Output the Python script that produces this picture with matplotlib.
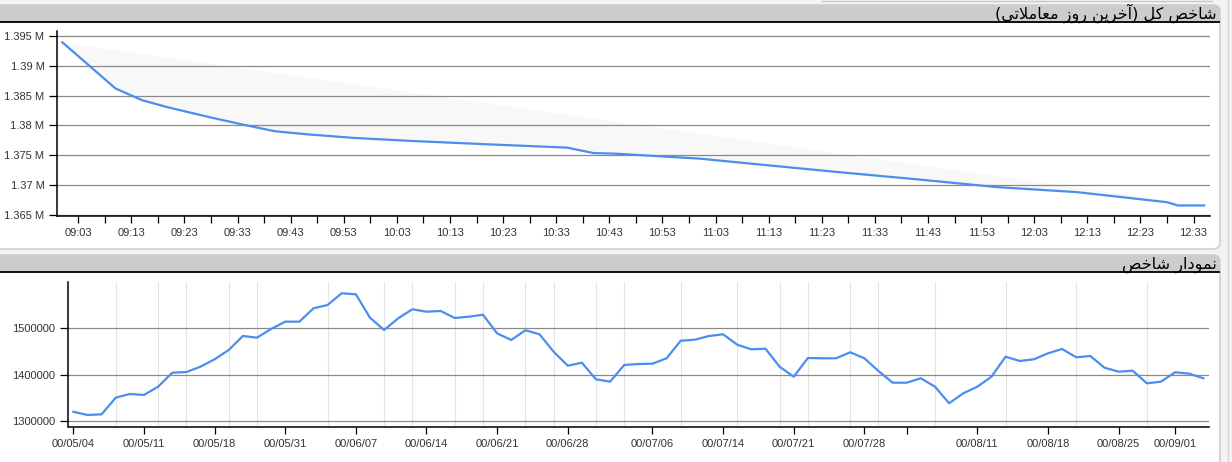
import matplotlib
matplotlib.use("Agg")
import matplotlib.pyplot as plt
import numpy as np
from matplotlib.patches import FancyBboxPatch, Rectangle
from matplotlib.ticker import FixedLocator, FuncFormatter, MultipleLocator

# ---------------- data ----------------
top_title = "شاخص کل (آخرین روز معاملاتی)"
bottom_title = "نمودار شاخص"

intraday_times = ["09:00", "09:10", "09:15", "09:20", "09:28", "09:34", "09:40", "09:46",
                  "09:55", "10:06", "10:20", "10:35", "10:40", "10:44", "11:00", "11:13",
                  "11:26", "11:41", "11:56", "12:11", "12:28", "12:30", "12:35"]
intraday_values = [1393940, 1386200, 1384230, 1383000, 1381310, 1380130, 1379010, 1378500,
                   1377880, 1377370, 1376820, 1376260, 1375350, 1375250, 1374410, 1373280,
                   1372160, 1370930, 1369630, 1368790, 1367100, 1366550, 1366550]

daily_values = [1320600, 1313500, 1315000, 1350800, 1358700, 1356600, 1374400, 1404500,
                1406000, 1417400, 1433300, 1453300, 1483400, 1479800, 1498500, 1514200,
                1514200, 1543000, 1550100, 1575300, 1573100, 1522800, 1496300, 1521500,
                1540900, 1535700, 1537200, 1522200, 1524900, 1529200, 1489200, 1474800,
                1495700, 1487100, 1449700, 1419600, 1426000, 1390300, 1385200, 1421100,
                1423200, 1423900, 1435500, 1473300, 1475500, 1483400, 1487100, 1464700,
                1454800, 1456100, 1417400, 1395900, 1436100, 1435500, 1435500, 1448400,
                1435500, 1408200, 1383000, 1383000, 1392500, 1374400, 1338700, 1360200,
                1374400, 1395900, 1438900, 1429700, 1433300, 1446200, 1455500, 1437600,
                1440400, 1415300, 1406700, 1408800, 1381700, 1385200, 1405400, 1402400,
                1392500]
daily_tick_index = [0, 5, 10, 15, 20, 25, 30, 35, 41, 46, 51, 56, 59, 64, 69, 74, 78]
daily_tick_labels = ["00/05/04", "00/05/11", "00/05/18", "00/05/31", "00/06/07", "00/06/14",
                     "00/06/21", "00/06/28", "00/07/06", "00/07/14", "00/07/21", "00/07/28",
                     "", "00/08/11", "00/08/18", "00/08/25", "00/09/01"]
daily_grid_index = [0, 3, 6, 8, 11, 13, 15, 18, 20, 22, 24, 27, 29, 32, 34, 37, 39, 43, 46,
                    47, 50, 52, 55, 57, 59, 61, 64, 66, 69, 71, 74, 76, 78]

# ---------------- helpers ----------------
FORMS = {
    'ا': ('\uFE8D', '\uFE8E', None, None),
    'آ': ('\uFE81', '\uFE82', None, None),
    'ت': ('\uFE95', '\uFE96', '\uFE97', '\uFE98'),
    'خ': ('\uFEA5', '\uFEA6', '\uFEA7', '\uFEA8'),
    'د': ('\uFEA9', '\uFEAA', None, None),
    'ر': ('\uFEAD', '\uFEAE', None, None),
    'ز': ('\uFEAF', '\uFEB0', None, None),
    'ش': ('\uFEB5', '\uFEB6', '\uFEB7', '\uFEB8'),
    'ص': ('\uFEB9', '\uFEBA', '\uFEBB', '\uFEBC'),
    'ع': ('\uFEC9', '\uFECA', '\uFECB', '\uFECC'),
    'ل': ('\uFEDD', '\uFEDE', '\uFEDF', '\uFEE0'),
    'م': ('\uFEE1', '\uFEE2', '\uFEE3', '\uFEE4'),
    'ن': ('\uFEE5', '\uFEE6', '\uFEE7', '\uFEE8'),
    'و': ('\uFEED', '\uFEEE', None, None),
    'ک': ('\uFB8E', '\uFB8F', '\uFB90', '\uFB91'),
    'ی': ('\uFBFC', '\uFBFD', '\uFBFE', '\uFBFF'),
}
LAM_ALEF = {'ا': ('\uFEFB', '\uFEFC'), 'آ': ('\uFEF5', '\uFEF6')}


def shape_rtl(s):
    def dual(c):
        return c in FORMS and FORMS[c][2] is not None
    out = []
    i, n = 0, len(s)
    while i < n:
        c = s[i]
        if c not in FORMS:
            out.append(c)
            i += 1
            continue
        prev = s[i - 1] if i > 0 else ''
        jp = dual(prev)
        if c == 'ل' and i + 1 < n and s[i + 1] in LAM_ALEF:
            out.append(LAM_ALEF[s[i + 1]][1 if jp else 0])
            i += 2
            continue
        nxt = s[i + 1] if i + 1 < n else ''
        jn = dual(c) and nxt in FORMS
        f = FORMS[c]
        g = f[3] if (jp and jn) else f[1] if jp else f[2] if jn else f[0]
        out.append(g)
        i += 1
    vis = ''.join(reversed(out))
    return vis.translate(str.maketrans('()', ')('))


def to_minutes(hhmm):
    h, m = hhmm.split(":")
    return (int(h) - 9) * 60 + int(m)


def fmt_minutes(v, pos=None):
    v = int(round(v))
    return f"{9 + v // 60:02d}:{v % 60:02d}"


# ---------------- figure ----------------
W, H = 1232, 462
fig = plt.figure(figsize=(W / 100, H / 100), dpi=100)
fig.patch.set_facecolor("#f3f3f3")

tick_font = dict(family="Liberation Sans", size=8)
LINE_COLOR = "#4a8eef"
GRID_COLOR = "#8a8a8a"

bg = fig.add_axes([0, 0, 1, 1], zorder=0)
bg.set_xlim(0, W)
bg.set_ylim(H, 0)
bg.axis("off")

# panels
for (y0, y1) in [(5, 249), (255, 480)]:
    bg.add_patch(FancyBboxPatch((-10, y0), 1230, y1 - y0,
                                boxstyle="round,pad=0,rounding_size=7",
                                facecolor="white", edgecolor="#cfcfcf", lw=1.2))
    bg.add_patch(FancyBboxPatch((-10, y0), 1230, 18,
                                boxstyle="round,pad=0,rounding_size=5",
                                facecolor="#cccccc", edgecolor="none"))
    bg.add_patch(Rectangle((-10, y0 + 10), 1230, 7, facecolor="#cccccc", edgecolor="none"))
    bg.plot([0, 1220], [y0 + 17, y0 + 17], color="black", lw=1.3, solid_capstyle="butt")
bg.plot([1228, 1228], [0, H], color="#d8d8d8", lw=1)
bg.plot([822, 1212], [1, 1], color="#c8c8c8", lw=1)

bg.text(1217, 18.5, shape_rtl(top_title), ha="right", va="baseline",
        fontsize=11.6, family=["DejaVu Sans"], color="black")
bg.text(1217, 268.5, shape_rtl(bottom_title), ha="right", va="baseline",
        fontsize=11.6, family=["DejaVu Sans"], color="black")


def px_axes(left, top, right, bottom):
    return fig.add_axes([left / W, 1 - bottom / H, (right - left) / W, (bottom - top) / H],
                        zorder=2)


# ---------------- top chart ----------------
ax1 = px_axes(57, 30.7, 1210, 215.7)
ax1.patch.set_alpha(0)
t = np.array([to_minutes(s) for s in intraday_times], dtype=float)
v = np.array(intraday_values, dtype=float)
straight = np.interp(t, [t[0], t[-1]], [v[0], v[-1]])
ax1.fill_between(t, v, straight, where=straight >= v, color="#f8f8f8", lw=0, zorder=0.2)
ax1.plot(t, v, color=LINE_COLOR, lw=1.6, zorder=3, solid_joinstyle="round")
ax1.set_xlim(-1, 216.1)
ax1.set_ylim(1364830, 1395890)
ax1.yaxis.set_major_locator(MultipleLocator(5000))
ax1.yaxis.set_major_formatter(FuncFormatter(lambda y, p: f"{y / 1e6:g} M"))
ax1.xaxis.set_major_locator(FixedLocator(np.arange(3, 216, 10)))
ax1.xaxis.set_minor_locator(FixedLocator(np.arange(8, 216, 10)))
ax1.xaxis.set_major_formatter(FuncFormatter(fmt_minutes))
ax1.grid(axis="y", color=GRID_COLOR, lw=0.9, zorder=0.5)
ax1.set_axisbelow(True)

# ---------------- bottom chart ----------------
ax2 = px_axes(67.7, 282.3, 1209, 426.5)
ax2.patch.set_alpha(0)
idx = np.arange(len(daily_values))
ax2.plot(idx, daily_values, color=LINE_COLOR, lw=1.6, zorder=3, solid_joinstyle="round")
ax2.set_xlim(-0.4, 80.4)
ax2.set_ylim(1288800, 1598900)
ax2.yaxis.set_major_locator(FixedLocator([1300000, 1400000, 1500000]))
ax2.yaxis.set_major_formatter(FuncFormatter(lambda y, p: f"{int(y)}"))
ax2.xaxis.set_major_locator(FixedLocator(daily_tick_index))
ax2.set_xticklabels(daily_tick_labels)
ax2.xaxis.set_minor_locator(FixedLocator(daily_grid_index))
ax2.grid(axis="y", which="major", color=GRID_COLOR, lw=0.9, zorder=0.5)
ax2.grid(axis="x", which="minor", color="#e4e4e4", lw=0.8, zorder=0.4)
ax2.set_axisbelow(True)

for ax in (ax1, ax2):
    for s in ("top", "right"):
        ax.spines[s].set_visible(False)
    for s in ("left", "bottom"):
        ax.spines[s].set_color("black")
        ax.spines[s].set_linewidth(1.1)
    ax.tick_params(axis="both", which="both", color="black", width=0.9, labelcolor="#333333")
    ax.tick_params(axis="x", which="major", length=5, pad=4)
    ax.tick_params(axis="y", which="major", length=6, pad=3)
    for lab in ax.get_xticklabels() + ax.get_yticklabels():
        lab.set_fontfamily(tick_font["family"])
        lab.set_fontsize(tick_font["size"])

ax1.tick_params(axis="x", which="minor", length=5)
ax2.tick_params(axis="x", which="minor", length=0)

fig.savefig("out.png", dpi=100, facecolor=fig.get_facecolor())
